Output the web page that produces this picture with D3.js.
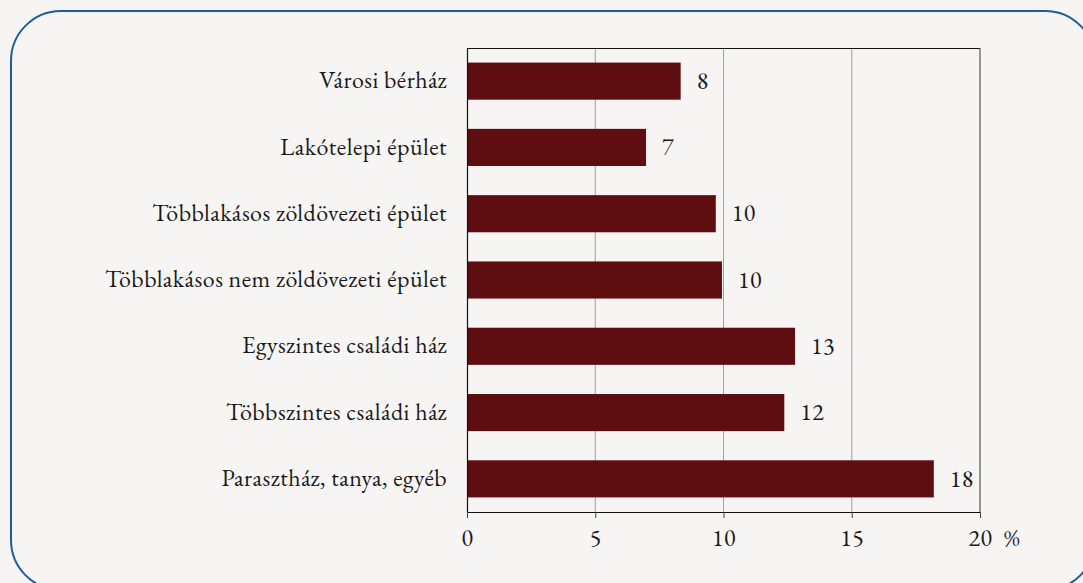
<!DOCTYPE html>
<html>
<head>
<meta charset="utf-8">
<script src="https://cdn.jsdelivr.net/npm/d3@7"></script>
<style>
  body { margin: 0; background: #f6f5f4; }
  svg { display: block; }
  text { font-family: "EB Garamond", "Liberation Serif", serif; fill: #1a1a1a; letter-spacing: 0.45px; }
</style>
</head>
<body>
<svg id="chart" width="1083" height="583"></svg>
<script>
// categories and values (percent)
var categories = ["Városi bérház", "Lakótelepi épület", "Többlakásos zöldövezeti épület",
    "Többlakásos nem zöldövezeti épület", "Egyszintes családi ház", "Többszintes családi ház",
    "Parasztház, tanya, egyéb"];
var values = [8.33, 6.98, 9.7, 9.94, 12.79, 12.37, 18.2];
var valueLabels = ["8", "7", "10", "10", "13", "12", "18"];
var xTicks = [0, 5, 10, 15, 20];

var margin = {top: 48, left: 467, right: 103, bottom: 71},
    width = 1083, height = 583,
    plotW = width - margin.left - margin.right,
    plotH = height - margin.top - margin.bottom;

var fontSize = "24px";

var svg = d3.select("#chart");

// rounded frame
svg.append("rect")
    .attr("x", 11).attr("y", 11)
    .attr("width", 1084).attr("height", 579)
    .attr("rx", 50).attr("ry", 50)
    .attr("fill", "#f6f5f4")
    .attr("stroke", "#1f5c9c").attr("stroke-width", 2);

var x = d3.scaleLinear().domain([0, 20]).range([0, plotW]);
var y = d3.scaleBand().domain(categories).range([0, plotH]).paddingInner(0.44).paddingOuter(0.22);

var g = svg.append("g").attr("transform", "translate(" + margin.left + "," + margin.top + ")");

// grid lines
g.selectAll(".grid").data(xTicks.slice(1, -1)).enter().append("line")
    .attr("class", "grid")
    .attr("x1", d => x(d)).attr("x2", d => x(d))
    .attr("y1", 0).attr("y2", plotH)
    .attr("stroke", "#a0a0a0").attr("stroke-width", 1);

// frame top and right
g.append("line").attr("x1", 0).attr("x2", plotW).attr("y1", 0.5).attr("y2", 0.5)
    .attr("stroke", "#111").attr("stroke-width", 1.2);
g.append("line").attr("x1", plotW).attr("x2", plotW).attr("y1", 0).attr("y2", plotH)
    .attr("stroke", "#555").attr("stroke-width", 1.2);

// bars
g.selectAll(".bar").data(values).enter().append("rect")
    .attr("class", "bar")
    .attr("x", 0)
    .attr("y", (d, i) => y(categories[i]))
    .attr("width", d => x(d))
    .attr("height", y.bandwidth())
    .attr("fill", "#5e0e11");

// value labels
g.selectAll(".val").data(values).enter().append("text")
    .attr("class", "val")
    .attr("x", d => x(d) + 16)
    .attr("y", (d, i) => y(categories[i]) + y.bandwidth() / 2)
    .attr("dy", "0.32em")
    .style("font-size", fontSize)
    .text((d, i) => valueLabels[i]);

// y axis
var yAxis = g.append("g").call(d3.axisLeft(y).tickSize(0).tickPadding(20));
yAxis.select(".domain").attr("stroke", "#111").attr("stroke-width", 1.2);
yAxis.selectAll("text").style("font-size", fontSize).attr("dy", "0.3em").attr("fill", "#1a1a1a");

// x axis
var xAxis = g.append("g").attr("transform", "translate(0," + plotH + ")")
    .call(d3.axisBottom(x).tickValues(xTicks).tickSize(6).tickPadding(11).tickSizeOuter(0));
xAxis.select(".domain").attr("stroke", "#111").attr("stroke-width", 1.2);
xAxis.selectAll("line").attr("stroke", "#444");
xAxis.selectAll("text").style("font-size", fontSize).attr("fill", "#1a1a1a");

// unit, on the tick label baseline
g.append("text")
    .attr("x", x(20) + 24).attr("y", plotH + 17)
    .attr("dy", "0.71em")
    .style("font-size", fontSize)
    .text("%");
</script>
</body>
</html>
